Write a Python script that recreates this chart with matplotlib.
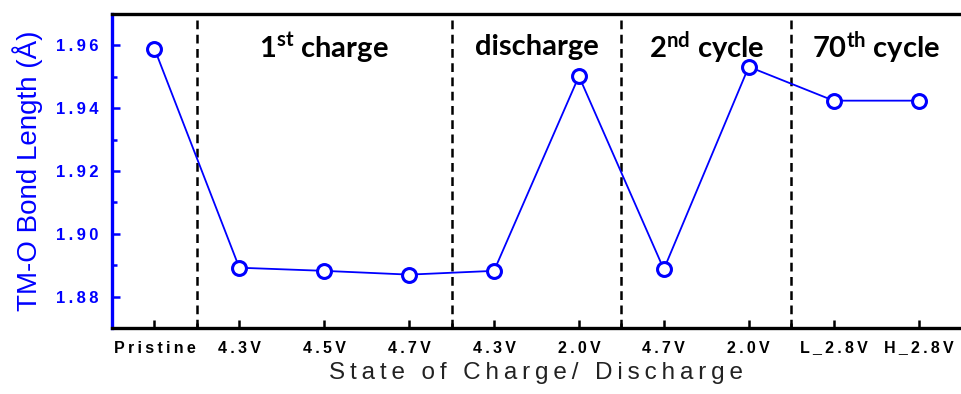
import numpy as np
import matplotlib
matplotlib.use("Agg")
import matplotlib.pyplot as plt
from matplotlib.ticker import MultipleLocator, FixedLocator

plt.rcParams['font.family'] = ['Liberation Sans', 'DejaVu Sans']
plt.rcParams['mathtext.fontset'] = 'custom'
plt.rcParams['mathtext.rm'] = 'Lato:bold'
plt.rcParams['mathtext.bf'] = 'Lato:bold'
plt.rcParams['mathtext.it'] = 'Lato:bold'

# data
states = ['Pristine', '4.3V', '4.5V', '4.7V', '4.3V', '2.0V',
          '4.7V', '2.0V', 'L_2.8V', 'H_2.8V']
bond_length = [1.9590, 1.8892, 1.8882, 1.8870, 1.8882, 1.9502,
               1.8887, 1.9532, 1.9424, 1.9424]
stage_labels = ['1$^{st}$ charge', 'discharge', '2$^{nd}$ cycle', '70$^{th}$ cycle']
stage_bounds = [0.5, 3.5, 5.5, 7.5, 9.5]
y_ticks = [1.88, 1.90, 1.92, 1.94, 1.96]

blue = '#0000ff'


def spaced(s):
    # the original labels are set with wide letter spacing
    return '\u2009'.join(s)


fig = plt.figure(figsize=(9.61, 3.94), dpi=100)
ax = fig.add_axes([0.1165, 0.1675, 0.8835, 0.797])

x = np.arange(len(states))
ax.plot(x, bond_length, '-', color=blue, lw=1.3,
        marker='o', markersize=10, markerfacecolor='white',
        markeredgecolor=blue, markeredgewidth=2.2, zorder=3)

# stage separators
for b in stage_bounds[:-1]:
    ax.axvline(b, color='black', lw=1.8, ls=(0, (3.5, 2.2)), zorder=2)

# stage titles
for i, lab in enumerate(stage_labels):
    xc = (stage_bounds[i] + stage_bounds[i + 1]) / 2
    ax.text(xc, 1.9594, lab, ha='center', va='center', fontsize=21,
            fontweight='bold', family='Lato', color='black')

ax.set_xlim(-0.5, 9.5)
ax.set_ylim(1.87, 1.97)

ax.set_xticks(x)
ax.set_xticklabels([spaced(s) for s in states], fontsize=11.5, fontweight='bold')
ax.xaxis.set_minor_locator(FixedLocator(stage_bounds[:-1]))
ax.yaxis.set_minor_locator(MultipleLocator(0.01))
ax.set_yticks(y_ticks)
ax.set_yticklabels([spaced('%.2f' % v) for v in y_ticks],
                   fontsize=12, fontweight='bold', color=blue)

ax.tick_params(axis='both', which='major', direction='in', length=6, width=1.8)
ax.tick_params(axis='both', which='minor', direction='in', length=3.5, width=1.8)
ax.tick_params(axis='y', which='both', colors=blue)
ax.tick_params(axis='x', which='both', colors='black', pad=9)
ax.tick_params(axis='y', which='major', pad=10)

ax.spines['right'].set_visible(False)
ax.spines['left'].set_color(blue)
for s in ['left', 'top', 'bottom']:
    ax.spines[s].set_linewidth(2.4)

ax.set_ylabel('TM-O Bond Length (Å)', fontsize=20, color=blue, labelpad=9)
ax.set_xlabel(spaced('State of Charge/ Discharge'), fontsize=17.5,
              color='#222222', labelpad=5)

plt.savefig('out.png', dpi=100)
plt.close(fig)
